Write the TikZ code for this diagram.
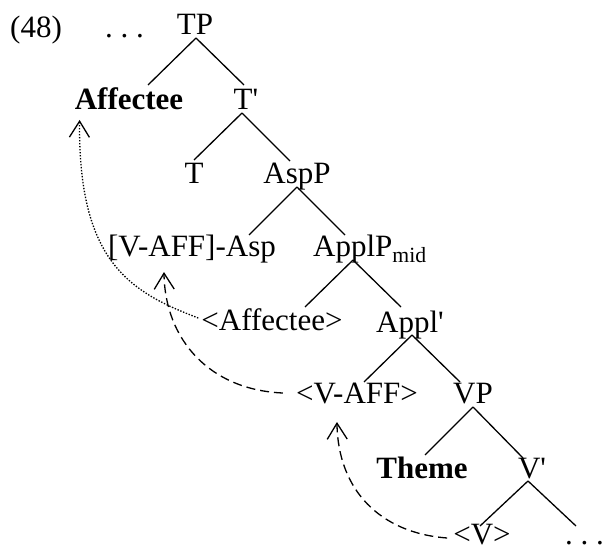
\documentclass[tikz,border=0pt]{standalone}
\usepackage{fontspec}
\setmainfont{Liberation Serif}
\usetikzlibrary{arrows.meta,calc}
\begin{document}
\begin{tikzpicture}[x=1pt,y=-1pt,
  lbl/.style={font=\fontsize{31}{31}\selectfont, inner sep=0pt, anchor=base},
  lblw/.style={lbl, anchor=base west},
  branch/.style={line width=1.3pt},
  mvtip/.style={-{Straight Barb[length=16pt,width=20pt,line width=1.3pt]}},
  dottedmove/.style={mvtip, line width=1.3pt, dash pattern=on 1.4pt off 1.6pt},
  dashedmove/.style={mvtip, line width=1.3pt, dash pattern=on 9pt off 5pt}]
\path[use as bounding box] (0,0) rectangle (603,551);

% labels
\node[lblw] (n48) at (10,38) {(48)};
\node[lblw] (dtop) at (105,38) {.\ .\ .};
\node[lbl] (TP) at (195,35) {TP};
\node[lbl] (Aff) at (129,110) {\bfseries Affectee};
\node[lbl] (Tb) at (246,110) {T\textquotesingle};
\node[lbl] (T) at (194,183) {T};
\node[lbl] (AspP) at (297,183) {AspP};
\node[lbl] (VAsp) at (192,256) {[V-AFF]-Asp};
\node[lblw] (ApplP) at (313,256) {ApplP\textsubscript{mid}};
\node[lbl] (AffT) at (272,330) {<Affectee>};
\node[lbl] (Applb) at (410,332) {Appl\textquotesingle};
\node[lbl] (VAFF) at (357,403) {<V-AFF>};
\node[lbl] (VP) at (473,403) {VP};
\node[lbl] (Theme) at (422,478) {\bfseries Theme};
\node[lbl] (Vb) at (532,478) {V\textquotesingle};
\node[lbl] (Vt) at (482,544) {<V>};
\node[lblw] (dbot) at (565,544) {.\ .\ .};

% branch apexes
\coordinate (TPa) at ($(TP.base)+(1,3)$);
\coordinate (Tba) at ($(Tb.base)+(-4,3)$);
\coordinate (AspPa) at ($(AspP.base)+(0,4)$);
\coordinate (ApplPa) at ($(ApplP.base west)+(40,4)$);
\coordinate (Applba) at ($(Applb.base)+(2,3)$);
\coordinate (VPa) at ($(VP.base)+(0,4)$);
\coordinate (Vba) at ($(Vb.base)+(-4,3)$);

\draw[branch] (TPa) -- ++(-48,47) (TPa) -- ++(48,47);
\draw[branch] (Tba) -- ++(-48,47) (Tba) -- ++(48,48);
\draw[branch] (AspPa) -- ++(-48,48) (AspPa) -- ++(48,48);
\draw[branch] (ApplPa) -- ++(-48,47) (ApplPa) -- ++(48,47);
\draw[branch] (Applba) -- ++(-48,47) (Applba) -- ++(48,47);
\draw[branch] (VPa) -- ++(-48,48) (VPa) -- ++(50,51);
\draw[branch] (Vba) -- ++(-48,45) (Vba) -- ++(48,45);

% movement arrows
\coordinate (m1s) at ($(AffT.base west)+(-3,-12)$);
\coordinate (m1e) at ($(Aff.base west)+(5,10)$);
\draw[dottedmove] (m1s) .. controls (130,292) and (78,262) .. (m1e);

\coordinate (m2s) at ($(VAFF.base west)+(-13,-10)$);
\coordinate (m2e) at ($(VAsp.base west)+(56,16)$);
\draw[dashedmove] (m2s) .. controls (210,390) and (165,340) .. (m2e);

\coordinate (m3s) at ($(Vt.base west)+(-6,-6)$);
\coordinate (m3e) at ($(VAFF.base west)+(41,19)$);
\draw[dashedmove] (m3s) .. controls (380,533) and (338,490) .. (m3e);
\end{tikzpicture}
\end{document}
